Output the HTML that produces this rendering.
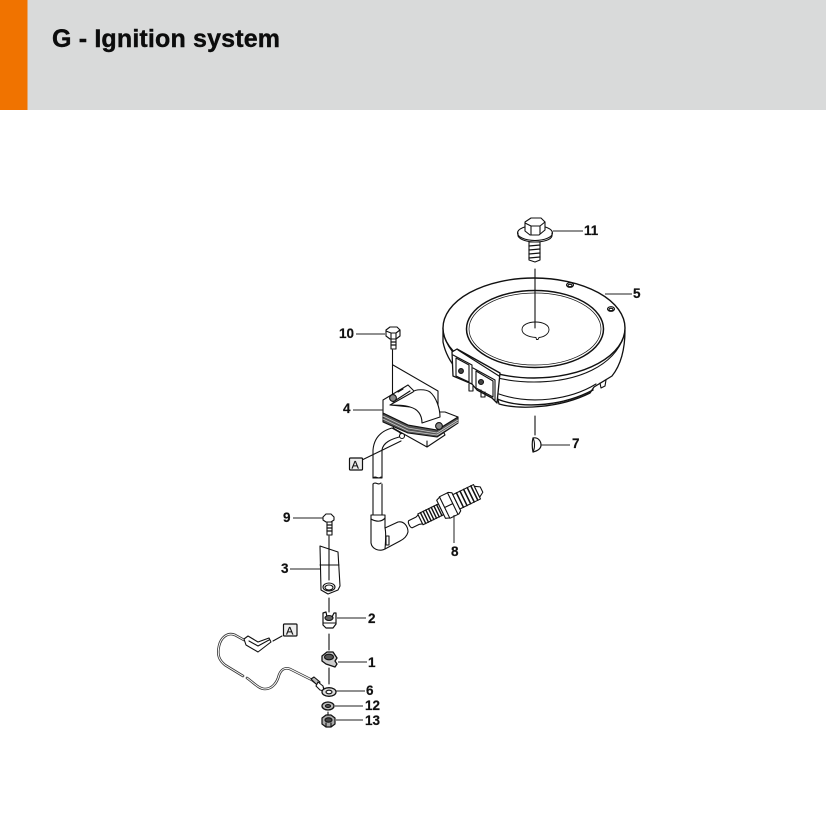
<!DOCTYPE html>
<html lang="en"><head><meta charset="utf-8"><title>G - Ignition system</title>
<style>html,body{margin:0;padding:0;background:#fff}svg{display:block}
.l{font:bold 13.5px "Liberation Sans",sans-serif;fill:#111;stroke:#111;stroke-width:.2}
</style></head><body>
<svg width="826" height="840" viewBox="0 0 826 840" xmlns="http://www.w3.org/2000/svg">
<rect width="826" height="110" fill="#d9dada"/>
<rect width="27.500" height="110" fill="#f07300"/>
<text x="52" y="47" font-family="'Liberation Sans',sans-serif" font-weight="700" font-size="25" fill="#0c0c0c" stroke="#0c0c0c" stroke-width=".4" textLength="228" lengthAdjust="spacing">G - Ignition system</text>

<g fill="none" stroke="#111" stroke-width="1.100" stroke-linejoin="round" stroke-linecap="round">
<!-- Flywheel -->
<path fill="#fff" stroke-width="1.300" d="M443 328V342C445 352 450 362 458 371L497 396L499 404C520 410 560 408 590 393L594 387L612 376C620 366 625 352 625 330Z"/>
<ellipse cx="534" cy="328" rx="91" ry="50" fill="#fff" stroke-width="1.400"/>
<path d="M444 336C454 366 490 382 534 382C578 382 614 366 624 336"/>
<ellipse cx="535" cy="329" rx="68.500" ry="38.500" stroke-width="1.500"/>
<ellipse cx="535" cy="329" rx="66" ry="36" stroke-width=".7"/>
<path d="M536 337.500C528 337 522 334 522 329.500C522 325 528 322 535.500 322C543 322 549 325 549 329.500C549 334 544 337 539 337.500L538 339.500L536.500 339.500Z" stroke-width=".9"/>
<ellipse cx="570" cy="285" rx="3.500" ry="2.300"/><ellipse cx="570" cy="285.500" rx="2" ry="1.200"/>
<ellipse cx="611" cy="309" rx="3.500" ry="2.300"/><ellipse cx="611" cy="309.500" rx="2" ry="1.200"/>
<path d="M499 394C530 405 570 400 596 384"/>
<path d="M497 399C525 410 565 405 593 390" stroke-width="1.400"/>
<path d="M600 383L601 388L605 386L606 380"/>
<!-- Flywheel magnet clip -->
<path fill="#fff" stroke-width="1.300" d="M452 352L457 349L500 373L497 403L492 398L477 390L472 384L453 376Z"/>
<path d="M458 350L499 376"/>
<path d="M453 355L472 365V384M456 358L469 365V382L456 376Z"/>
<path d="M473 368L495 380V400M476 371L493 381V397L476 388Z"/>
<circle cx="461" cy="371" r="2.400" fill="#444"/><circle cx="481" cy="382" r="2.500" fill="#444"/>
<path d="M469 384V391H473V386M481 390V397H485V392"/>
<!-- Center line and bolt 11 -->
<path d="M535 269V328"/>
<ellipse cx="535" cy="233" rx="17.500" ry="7.500" fill="#fff"/>
<path d="M518 233V236C520 240 528 242 535 242C543 242 551 240 552 236V233"/>
<path fill="#fff" d="M525 222L531 218H541L545 222V230L539 235H530L525 231Z"/>
<path d="M525 223L531 226H540L545 222M531 226V235M540 226V234"/>
<path fill="#fff" d="M529 242H540V260L535 262L529 260Z"/>
<path d="M529 246L540 245M529 250L540 249M529 254L540 253M529 258L540 257" stroke-width="1.300"/>
<!-- Key 7 -->
<path d="M535 416V435"/>
<path fill="#fff" stroke-width="1.200" d="M533 438C538 437 541 441 541 445C541 449 537 451 533 452C532 447 532 442 533 438Z"/>
<path d="M533 438C535 442 535 448 533 452"/>
<!-- Bolt 10 -->
<path fill="#fff" d="M386 330L390 327H397L400 330V336L396 339H390L386 336Z"/>
<path d="M386 331L391 333H396L400 330M391 333V339M396 333V339"/>
<path fill="#fff" d="M391 339H396V349H391Z"/>
<path d="M391 342H396M391 345H396" stroke-width="1.200"/>
<path d="M392.500 350V396M393 365L438 391V425"/>
<!-- Ignition coil -->
<path fill="#fff" d="M393 428L427 447L445 435L440 425L400 420Z"/>
<path fill="#555" stroke="#111" d="M383 413L408 425L437 430L458 417V423L437 437L408 433L383 422Z"/>
<path d="M383 416L408 428L437 433L458 420M383 419L408 431L437 435L458 422" stroke="#ccc" stroke-width=".8"/>
<path fill="#fff" d="M383 400L408 385L413 390L440 412L445 412L458 417L437 430L408 425L383 413Z"/>
<path fill="#fff" d="M390 405L413 392C415 389 426 389 430 392C436 397 440 408 440 417L422 423C422 415 418 409 410 407Z"/>
<path d="M390 405C397 405 404 405 410 407M393 402L410 391"/>
<path d="M398 392L403 389"/>
<circle cx="393" cy="398" r="3.400" fill="#888"/>
<circle cx="439" cy="426" r="3.400" fill="#888"/>
<path d="M427 441V447"/>
<!-- HT lead -->
<path fill="#fff" d="M392 428C381 431 374 438 373 450V478H382V450C383 443 390 439 403 436L399 432Z"/>
<circle cx="402" cy="436" r="2.500" fill="#fff"/>
<path d="M362 460L401 441"/>
<path d="M373 478C376 475 378 480 381 477M373 484C376 481 378 486 381 483"/>
<path d="M373 484V515M382 484V515"/>
<!-- Boot -->
<path fill="#fff" d="M371 515H385V528L398 522C404 521 408 526 408 532C407 536 404 539 400 541L385 549C379 552 372 549 371 543Z"/>
<path d="M371 519C376 522 382 522 385 518M385 528C386 532 386 537 385 549"/>
<path d="M386 536V545H389V536Z"/>
<!-- Spark plug -->
<g transform="translate(415 522) rotate(-26)">
<path fill="#fff" d="M-5 -4H3L6 -5V5L3 4H-5C-7 3 -7 -3 -5 -4Z"/>
<path fill="#fff" d="M6 -6H29V6H6Z"/>
<path d="M9 -6V6M12 -6V6M15 -6V6M18 -6V6M21 -6V6M24 -6V6M27 -6V6" stroke-width="1.400"/>
<path fill="#fff" d="M29 -10L34 -12H43L46 -10V10L43 12H34L29 10Z"/>
<path d="M33 -12V12M42 -12V12M33 0H42"/>
<path fill="#fff" d="M46 -8H69V8H46Z"/>
<path d="M50 -8V8M54 -8V8M58 -8V8M62 -8V8M66 -8V8" stroke-width="1.500"/>
<path fill="#fff" d="M69 -6L74 -3V3L69 6Z"/>
</g>
<!-- Bolt 9 -->
<path fill="#fff" d="M323 517L326 514H331L334 517V520L331 522H326L323 520Z"/>
<path fill="#fff" d="M327 522H332V535H327Z"/>
<path d="M327 525H332M327 528H332M327 531H332" stroke-width="1.300"/>
<path d="M329 536V545"/>
<!-- Bracket 3 -->
<path fill="#fff" d="M320 546L338 552L340 586L338 590L328 594L321 590Z"/>
<path d="M320 565H339M329 545V580"/>
<ellipse cx="329" cy="587" rx="6" ry="4"/><ellipse cx="329" cy="587.500" rx="4" ry="2.500"/>
<path d="M329 598V612"/>
<!-- Part 2 -->
<path fill="#fff" stroke-width="1.200" d="M323 613L326 612L327 617H332L334 613L336 613V624L333 628H326L323 625Z"/>
<ellipse cx="329" cy="618" rx="4" ry="2.500" fill="#666"/>
<path d="M323 623L336 623"/>
<path d="M329 634V650"/>
<!-- Part 1 -->
<path fill="#ccc" stroke-width="1.300" d="M322 656L327 652H333L337 658L335 661L337 664L335 667L326 664L322 661Z"/>
<ellipse cx="329" cy="657" rx="4.500" ry="2.800" fill="#555"/>
<path d="M329 668V684"/>
<!-- Cable -->
<path d="M323 688L312 680L290 669C284 667 281 670 279 675C277 683 272 689 265 689C259 689 254 683 247 678M243 676L225 665C219 660 217 655 219 646C221 637 228 632 235 635L244 640" stroke="#333" stroke-width="2.600"/>
<path d="M323 688L312 680L290 669C284 667 281 670 279 675C277 683 272 689 265 689C259 689 254 683 247 678M243 676L225 665C219 660 217 655 219 646C221 637 228 632 235 635L244 640" stroke="#fff" stroke-width="1"/>
<path fill="#fff" d="M244 639L248 636L258 642L269 638L271 642L258 652L246 645Z"/>
<path d="M249 641L258 646L269 640"/>
<path fill="#bbb" d="M311 679L314 677L320 682L318 686Z"/>
<path fill="#fff" d="M318 682L323 686L324 691L320 690L316 686Z"/>
<!-- Ring 6 -->
<ellipse cx="329" cy="692" rx="7" ry="4.300" fill="#ddd" stroke-width="1.300"/><ellipse cx="329" cy="692" rx="3" ry="1.800" fill="#fff"/>
<!-- Washer 12 -->
<ellipse cx="328" cy="706" rx="6" ry="4" fill="#bbb" stroke-width="1.300"/><ellipse cx="328" cy="706" rx="2.500" ry="1.500" fill="#555"/>
<path d="M328 712V716"/>
<!-- Nut 13 -->
<path fill="#aaa" stroke-width="1.200" d="M322 718L326 715H331L335 718V724L331 727H326L322 724Z"/>
<ellipse cx="328.500" cy="720" rx="3.500" ry="2.200" fill="#444"/>
<path d="M326 723V727M331 723V727"/>
<!-- A boxes -->
<rect x="349.500" y="458" width="13" height="12" rx="1" fill="#eee" stroke-width="1.200"/>
<rect x="283.500" y="624" width="13.500" height="12" rx="1" fill="#eee" stroke-width="1.200"/>
<path d="M273 641L282 636"/>
</g>

<g stroke="#222" stroke-width="1" fill="none">
<path d="M553 231H583M605 294H632M541 445H570M356 334H385M353 410H383M454 515V543M293 518H323M290 569H320M337 618H366M338 662H367M336 691H365M335 706H363M336 720H363"/>
</g>
<text class="l" x="584" y="235">11</text>
<text class="l" x="633" y="298">5</text>
<text class="l" x="572" y="448">7</text>
<text class="l" x="339" y="338">10</text>
<text class="l" x="343" y="413">4</text>
<text class="l" x="451" y="556">8</text>
<text class="l" x="283" y="522">9</text>
<text class="l" x="281" y="573">3</text>
<text class="l" x="368" y="623">2</text>
<text class="l" x="368" y="667">1</text>
<text class="l" x="366" y="695">6</text>
<text class="l" x="365" y="710">12</text>
<text class="l" x="365" y="725">13</text>
<text x="351.500" y="468.500" font-family="'Liberation Sans',sans-serif" font-size="11" fill="#111" stroke="#111" stroke-width=".2">A</text>
<text x="286" y="634.500" font-family="'Liberation Sans',sans-serif" font-size="11" fill="#111" stroke="#111" stroke-width=".2">A</text>
</svg>
</body></html>
